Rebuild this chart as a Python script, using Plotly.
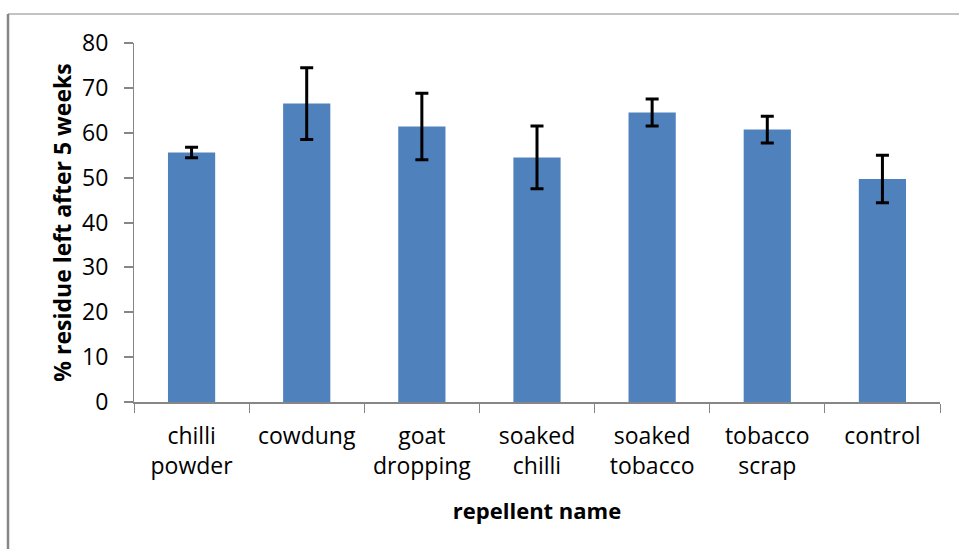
import plotly.graph_objects as go

categories = ["chilli<br>powder", "cowdung", "goat<br>dropping", "soaked<br>chilli",
              "soaked<br>tobacco", "tobacco<br>scrap", "control"]
residue = [55.6, 66.5, 61.4, 54.5, 64.5, 60.7, 49.7]
errors = [1.15, 8.0, 7.4, 7.0, 3.0, 3.0, 5.3]
y_ticks = [0, 10, 20, 30, 40, 50, 60, 70, 80]

FONT = "Open Sans"
GRAY = "#868686"

fig = go.Figure()
fig.add_trace(go.Bar(
    x=categories, y=residue,
    marker=dict(color="#4F81BD", line=dict(width=0)),
    error_y=dict(type="data", array=errors, visible=True,
                 color="black", thickness=3, width=6.5),
    width=0.41,
))

L, R, T, B = 134, 19, 43, 147
W, H = 959, 549
pw, ph = W - L - R, H - T - B

def px_x(p):
    return (p - L) / pw

def px_y(p):
    return (H - B - p) / ph

fig.update_layout(
    width=W, height=H,
    margin=dict(l=L, r=R, t=T, b=B, pad=0),
    paper_bgcolor="white", plot_bgcolor="white",
    showlegend=False,
    font=dict(family=FONT, color="black"),
    xaxis=dict(
        showline=True, linecolor=GRAY, linewidth=2,
        ticks="outside", tickson="boundaries", ticklen=9, tickcolor=GRAY, tickwidth=1,
        tickfont=dict(family=FONT, size=23, color="black"),
        ticklabelstandoff=12,
        showgrid=False, zeroline=False,
        title=dict(text="<b>repellent name</b>", font=dict(family=FONT, size=22), standoff=24),
    ),
    yaxis=dict(
        range=[0, 80], tickvals=y_ticks,
        showline=True, linecolor=GRAY, linewidth=1,
        ticks="outside", ticklen=9, tickcolor=GRAY, tickwidth=2,
        tickfont=dict(family=FONT, size=23, color="black"),
        ticklabelstandoff=11,
        showgrid=False, zeroline=False,
        title=dict(text="<b>% residue left after 5 weeks</b>", font=dict(family=FONT, size=23), standoff=4),
    ),
    shapes=[
        dict(type="line", xref="paper", yref="paper",
             x0=px_x(8), x1=px_x(8), y0=px_y(14), y1=px_y(560),
             line=dict(color=GRAY, width=2.5)),
        dict(type="line", xref="paper", yref="paper",
             x0=px_x(8), x1=px_x(970), y0=px_y(14), y1=px_y(14),
             line=dict(color=GRAY, width=1)),
    ],
)

fig.write_html("out.html", config={"displayModeBar": False},
               post_script="document.body.style.margin='0';document.body.style.overflow='hidden';")
